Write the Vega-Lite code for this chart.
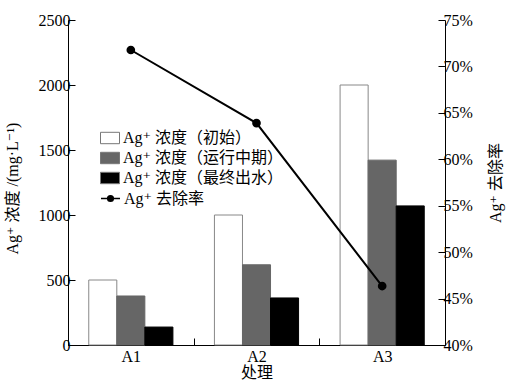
{
  "$schema": "https://vega.github.io/schema/vega-lite/v6.json",
  "width": 377,
  "height": 325,
  "autosize": {"type": "none"},
  "padding": {"left": 68, "top": 20, "right": 66, "bottom": 40},
  "background": "white",
  "config": {
    "view": {"stroke": null},
    "font": "Liberation Serif, DejaVu Serif, Noto Sans CJK SC",
    "axis": {
      "labelFont": "Liberation Serif, DejaVu Serif, Noto Sans CJK SC",
      "titleFont": "Liberation Serif, DejaVu Serif, Noto Sans CJK SC",
      "labelFontSize": 16,
      "titleFontSize": 16,
      "titleFontWeight": "normal",
      "labelColor": "#000",
      "titleColor": "#000",
      "domainColor": "#000",
      "tickColor": "#000",
      "grid": false
    },
    "legend": {
      "labelFont": "Liberation Serif, DejaVu Serif, Noto Sans CJK SC",
      "labelFontSize": 16,
      "labelColor": "#000",
      "labelLimit": 400
    }
  },
  "datasets": {
    "bars": [
      {"group": "A1", "series": "Ag⁺ 浓度（初始）", "value": 500},
      {"group": "A1", "series": "Ag⁺ 浓度（运行中期）", "value": 377},
      {"group": "A1", "series": "Ag⁺ 浓度（最终出水）", "value": 138},
      {"group": "A2", "series": "Ag⁺ 浓度（初始）", "value": 1000},
      {"group": "A2", "series": "Ag⁺ 浓度（运行中期）", "value": 617},
      {"group": "A2", "series": "Ag⁺ 浓度（最终出水）", "value": 362},
      {"group": "A3", "series": "Ag⁺ 浓度（初始）", "value": 2000},
      {"group": "A3", "series": "Ag⁺ 浓度（运行中期）", "value": 1422},
      {"group": "A3", "series": "Ag⁺ 浓度（最终出水）", "value": 1070}
    ],
    "rate": [
      {"group": "A1", "rate": 0.7177},
      {"group": "A2", "rate": 0.639},
      {"group": "A3", "rate": 0.4635}
    ]
  },
  "layer": [
    {
      "data": {"name": "bars"},
      "mark": {"type": "bar", "strokeWidth": 1},
      "encoding": {
        "x": {
          "field": "group", "type": "nominal",
          "scale": {"paddingInner": 0, "paddingOuter": 0},
          "axis": {"title": "处理", "labelAngle": 0, "tickBand": "extent", "tickSize": -7, "labelPadding": 10, "titlePadding": 0}
        },
        "xOffset": {
          "field": "series", "type": "nominal",
          "sort": ["Ag⁺ 浓度（初始）", "Ag⁺ 浓度（运行中期）", "Ag⁺ 浓度（最终出水）"],
          "scale": {"paddingOuter": 0.74, "paddingInner": 0}
        },
        "y": {
          "field": "value", "type": "quantitative",
          "scale": {"domain": [0, 2500]},
          "axis": {"title": "Ag⁺ 浓度 /(mg·L⁻¹)", "format": "d", "values": [0, 500, 1000, 1500, 2000, 2500], "tickSize": -7, "labelPadding": 5, "titlePadding": 18, "titleY": 168}
        },
        "fill": {
          "field": "series", "type": "nominal",
          "sort": ["Ag⁺ 浓度（初始）", "Ag⁺ 浓度（运行中期）", "Ag⁺ 浓度（最终出水）"],
          "scale": {"domain": ["Ag⁺ 浓度（初始）", "Ag⁺ 浓度（运行中期）", "Ag⁺ 浓度（最终出水）"], "range": ["#ffffff", "#666666", "#000000"]},
          "legend": {"title": null, "orient": "none", "legendX": 32, "legendY": 108, "symbolType": "M-1,-0.6H1V0.6H-1Z", "symbolSize": 361, "symbolStrokeColor": "#777", "symbolStrokeWidth": 1, "rowPadding": 2, "labelOffset": 3}
        },
        "stroke": {
          "field": "series", "type": "nominal",
          "scale": {"domain": ["Ag⁺ 浓度（初始）", "Ag⁺ 浓度（运行中期）", "Ag⁺ 浓度（最终出水）"], "range": ["#888888", "#666666", "#000000"]},
          "legend": null
        }
      }
    },
    {
      "data": {"name": "rate"},
      "mark": {"type": "line", "strokeWidth": 2, "point": {"filled": true, "size": 45, "color": "#000"}},
      "encoding": {
        "x": {"field": "group", "type": "nominal"},
        "y": {
          "field": "rate", "type": "quantitative",
          "scale": {"domain": [0.4, 0.75]},
          "axis": {"title": "Ag⁺ 去除率", "orient": "right", "format": ".0%", "values": [0.4, 0.45, 0.5, 0.55, 0.6, 0.65, 0.7, 0.75], "tickSize": -7, "labelPadding": 5, "titleAngle": -90, "titlePadding": 31}
        },
        "stroke": {
          "datum": "Ag⁺ 去除率",
          "scale": {"range": ["#000000"]},
          "legend": {"title": null, "orient": "none", "legendX": 32, "legendY": 168, "symbolType": "M-1,0L1,0M-0.3,0A0.3,0.3 0 1,1 0.3,0A0.3,0.3 0 1,1 -0.3,0Z", "symbolSize": 361, "symbolFillColor": "#000", "symbolStrokeColor": "#000", "symbolStrokeWidth": 1.5, "labelOffset": 3}
        }
      }
    }
  ],
  "resolve": {"scale": {"y": "independent", "stroke": "independent"}}
}
